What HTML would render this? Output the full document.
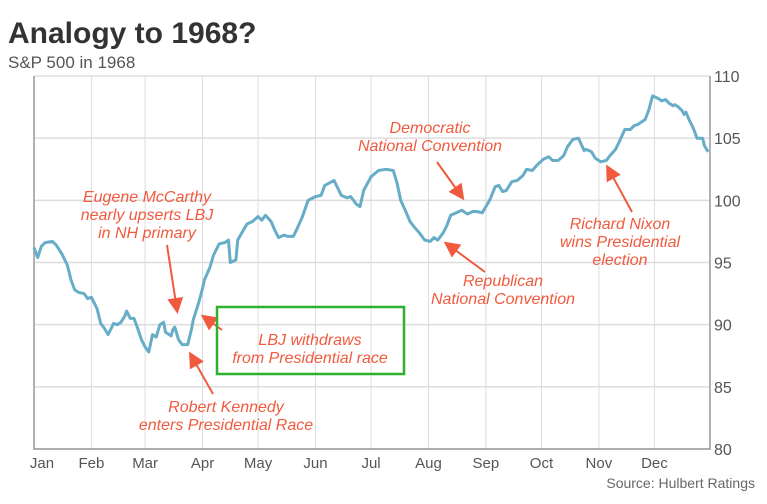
<!DOCTYPE html>
<html><head><meta charset="utf-8"><style>
body{margin:0;background:#fff;}
svg{display:block;font-family:"Liberation Sans",sans-serif;}
.ann{fill:#f15a3e;font-style:italic;font-size:16px;text-anchor:middle;}
</style></head><body>
<svg id="chart" width="767" height="504">
<text x="8" y="43" font-size="30" font-weight="bold" fill="#333">Analogy to 1968?</text>
<text x="8" y="68" font-size="17" fill="#555">S&amp;P 500 in 1968</text>
<g id="grid"></g>
<g id="axes"></g>
<path id="line" fill="none" stroke="#67adc8" stroke-width="3" stroke-linejoin="round"></path>
<defs><marker id="ah" markerWidth="8" markerHeight="8" refX="6" refY="4" orient="auto"><path d="M0,0 L8,4 L0,8 z" fill="#f15a3e"/></marker></defs>
<g stroke="#f15a3e" stroke-width="2">
<line x1="167" y1="245" x2="177" y2="310" marker-end="url(#ah)"/>
<line x1="222" y1="330" x2="204" y2="317" marker-end="url(#ah)"/>
<line x1="213" y1="394" x2="191" y2="355" marker-end="url(#ah)"/>
<line x1="437" y1="162" x2="462" y2="197" marker-end="url(#ah)"/>
<line x1="485" y1="272" x2="447" y2="244" marker-end="url(#ah)"/>
<line x1="632" y1="212" x2="608" y2="168" marker-end="url(#ah)"/>
</g>
<rect x="217" y="307" width="187" height="67" fill="none" stroke="#2fb02f" stroke-width="2.5"/>
<text class="ann"><tspan x="147" y="202">Eugene McCarthy</tspan><tspan x="147" y="220">nearly upserts LBJ</tspan><tspan x="147" y="238">in NH primary</tspan></text>
<text class="ann"><tspan x="310" y="345">LBJ withdraws</tspan><tspan x="310" y="363">from Presidential race</tspan></text>
<text class="ann"><tspan x="226" y="412">Robert Kennedy</tspan><tspan x="226" y="430">enters Presidential Race</tspan></text>
<text class="ann"><tspan x="430" y="133">Democratic</tspan><tspan x="430" y="151">National Convention</tspan></text>
<text class="ann"><tspan x="503" y="286">Republican</tspan><tspan x="503" y="304">National Convention</tspan></text>
<text class="ann"><tspan x="620" y="229">Richard Nixon</tspan><tspan x="620" y="247">wins Presidential</tspan><tspan x="620" y="265">election</tspan></text>
<text x="755" y="488" font-size="14" fill="#666" text-anchor="end">Source: Hulbert Ratings</text>
</svg>
<script>
const days=[0,2,4,6,10,12,15,18,20,22,24,27,29,31,34,36,38,40,42,43,45,47,49,50,52,54,56,58,60,62,64,66,68,70,71,74,75,76,78,80,83,85,86,89,91,92,95,97,100,103,105,106,109,110,113,115,118,121,123,125,128,130,132,135,137,140,142,145,148,152,155,157,162,164,166,169,171,174,176,178,182,186,190,194,196,198,201,203,205,208,211,214,216,218,221,223,225,228,231,234,237,239,242,244,246,249,251,253,255,258,261,264,266,269,272,275,278,280,283,286,288,291,294,297,298,301,303,306,309,311,314,316,319,322,324,326,329,330,332,334,337,339,341,343,345,346,348,350,351,352,354,356,358,361,362,364];
const values=[96.2,95.4,96.3,96.6,96.7,96.4,95.7,94.8,93.6,92.8,92.6,92.5,92.1,92.2,91.3,90.1,89.7,89.2,89.8,90.1,90.0,90.2,90.7,91.1,90.5,90.5,89.7,88.8,88.2,87.8,89.2,89.0,90.0,90.2,89.4,89.1,89.6,89.8,88.8,88.4,88.4,89.6,90.4,91.8,92.9,93.6,94.6,95.6,96.5,96.6,96.8,95.0,95.2,96.8,97.6,98.1,98.3,98.7,98.4,98.8,98.3,97.6,97.0,97.2,97.1,97.1,97.7,98.7,100.0,100.3,100.4,101.2,101.6,101.0,100.4,100.2,100.3,99.7,99.5,100.8,101.9,102.4,102.5,102.4,101.4,100.0,99.0,98.3,97.9,97.4,96.8,96.7,97.0,96.8,97.4,98.0,98.8,99.0,99.2,98.9,99.1,99.1,99.0,99.5,100.0,101.1,101.2,100.7,100.8,101.5,101.6,102.0,102.5,102.4,102.9,103.3,103.5,103.2,103.2,103.6,104.3,104.9,105.0,104.0,104.1,103.9,103.4,103.1,103.2,103.6,104.1,104.7,105.7,105.7,106.0,106.1,106.4,106.5,107.3,108.4,108.2,108.0,108.1,107.8,107.6,107.7,107.5,107.2,106.9,107.1,106.4,105.8,105.0,105.0,104.4,103.9];
const yTicks=[80,85,90,95,100,105,110];
const months=["Jan","Feb","Mar","Apr","May","Jun","Jul","Aug","Sep","Oct","Nov","Dec"];
const monthStarts=[0,31,60,91,121,152,182,213,244,274,305,335];
const L=34,R=710,T=76,B=449;
const xs=d=>L+d*(R-L)/365;
const ys=v=>B-(v-80)*(B-T)/30;
const NS="http://www.w3.org/2000/svg";
const grid=document.getElementById('grid'),axes=document.getElementById('axes');
function mk(tag,attrs,parent){const e=document.createElementNS(NS,tag);for(const k in attrs)e.setAttribute(k,attrs[k]);parent.appendChild(e);return e;}
yTicks.forEach(t=>{
  const g=mk('line',{x1:L,x2:R,y1:ys(t),y2:ys(t),stroke:'#ddd','stroke-width':1.5},grid);
  
  
  const tx=mk('text',{x:R+4,y:ys(t)+6,'font-size':16,fill:'#555'},axes);
  tx.textContent=t;
  
  
});
months.forEach((m,i)=>{
  const x=xs(monthStarts[i]);
  if(i>0){const g=mk('line',{x1:x,x2:x,y1:T,y2:B,stroke:'#ddd','stroke-width':1},grid);
  
  }
  const tx=mk('text',{x:(i==0?42:x),y:468,'font-size':15,fill:'#555','text-anchor':'middle'},axes);
  tx.textContent=m;
  
  
});
const ax=mk('path',{d:`M${L},${T}V${B}H${R}V${T}`,fill:'none',stroke:'#999','stroke-width':1.5},axes);


document.getElementById('line').setAttribute('d',days.map((d,i)=>(i?'L':'M')+xs(d).toFixed(1)+','+ys(values[i]).toFixed(1)).join(''));
</script>
</body></html>
